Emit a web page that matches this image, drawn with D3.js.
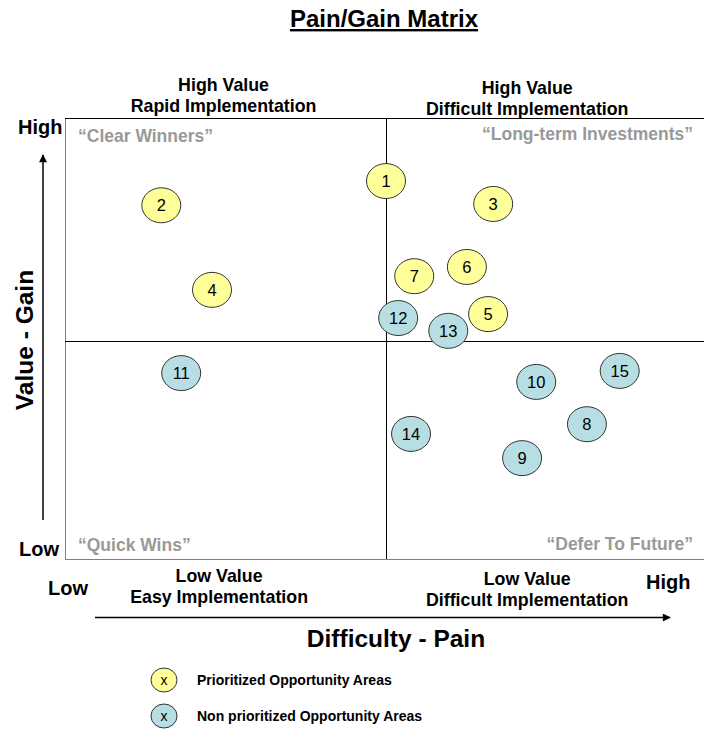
<!DOCTYPE html>
<html>
<head>
<meta charset="utf-8">
<script src="https://cdn.jsdelivr.net/npm/d3@7"></script>
<style>
  body { margin: 0; background: #fff; }
  svg { display: block; font-family: "Liberation Sans", Arial, sans-serif; }
</style>
</head>
<body>
<svg id="chart" width="704" height="730"></svg>
<script>
// Opportunity areas: id, difficulty (x), value (y), prioritized flag
const ids = [1, 2, 3, 4, 5, 6, 7, 8, 9, 10, 11, 12, 13, 14, 15];
const difficulty = [5.0, 1.5, 6.67, 2.29, 6.59, 6.26, 5.44, 8.13, 7.12, 7.34, 1.81, 5.19, 5.97, 5.39, 8.64];
const value = [8.58, 8.03, 8.06, 6.11, 5.56, 6.63, 6.42, 3.06, 2.29, 4.02, 4.22, 5.47, 5.18, 2.84, 4.27];
const prioritized = [true, true, true, true, true, true, true, false, false, false, false, false, false, false, false];

const splitX = 5;
const splitY = 4.94;

const quadrantTitles = [
  { lines: ["High Value", "Rapid Implementation"], x: 2.47, top: true },
  { lines: ["High Value", "Difficult Implementation"], x: 7.2, top: true },
  { lines: ["Low Value", "Easy Implementation"], x: 2.4, top: false },
  { lines: ["Low Value", "Difficult Implementation"], x: 7.2, top: false }
];
const quadrantNames = ["\u201CClear Winners\u201D", "\u201CLong-term Investments\u201D", "\u201CQuick Wins\u201D", "\u201CDefer To Future\u201D"];
const legendLabels = ["Prioritized  Opportunity Areas", "Non prioritized Opportunity Areas"];

const colors = { yes: "#FFFF99", no: "#B7DFE3" };

const svg = d3.select("#chart");
const plot = { left: 65, right: 707, top: 118.5, bottom: 559 };

const x = d3.scaleLinear().domain([0, 10]).range([plot.left, plot.right]);
const y = d3.scaleLinear().domain([0, 10]).range([plot.bottom, plot.top]);

const data = ids.map((id, i) => ({ id, x: difficulty[i], y: value[i], p: prioritized[i] }));

// arrow marker
svg.append("defs").append("marker")
  .attr("id", "arrow")
  .attr("viewBox", "0 0 10 10")
  .attr("refX", 9).attr("refY", 5)
  .attr("markerWidth", 9).attr("markerHeight", 8)
  .attr("markerUnits", "userSpaceOnUse")
  .attr("orient", "auto")
  .append("path").attr("d", "M0,0L10,5L0,10Z").attr("fill", "#000");

// title
svg.append("text")
  .attr("x", 384).attr("y", 27)
  .attr("text-anchor", "middle")
  .style("font-size", "24px").style("font-weight", "bold")
  .style("text-decoration", "underline")
  .text("Pain/Gain Matrix");

// frame
const frame = svg.append("g").attr("shape-rendering", "crispEdges");
frame.append("line")
  .attr("x1", plot.left).attr("x2", plot.right).attr("y1", plot.top).attr("y2", plot.top)
  .attr("stroke", "#000");
frame.append("line")
  .attr("x1", plot.left).attr("x2", plot.left).attr("y1", plot.top).attr("y2", plot.bottom)
  .attr("stroke", "#808080");
frame.append("line")
  .attr("x1", plot.left).attr("x2", plot.right).attr("y1", plot.bottom).attr("y2", plot.bottom)
  .attr("stroke", "#808080");
frame.append("line")
  .attr("x1", x(splitX)).attr("x2", x(splitX)).attr("y1", plot.top).attr("y2", plot.bottom)
  .attr("stroke", "#000");
frame.append("line")
  .attr("x1", plot.left).attr("x2", plot.right).attr("y1", y(splitY)).attr("y2", y(splitY))
  .attr("stroke", "#000");

// quadrant titles (outside the box)
quadrantTitles.forEach((q, i) => {
  const baseY = q.top ? (i === 0 ? 91 : 94) : (i === 2 ? 582 : 585);
  const t = svg.append("text")
    .attr("x", x(q.x)).attr("y", baseY)
    .attr("text-anchor", "middle")
    .style("font-size", "17.8px").style("font-weight", "bold");
  q.lines.forEach((l, j) => {
    t.append("tspan").attr("x", x(q.x)).attr("dy", j === 0 ? 0 : 21).text(l);
  });
});

// quadrant names (grey, inside corners)
const nameStyle = sel => sel.style("font-size", "17.5px").style("font-weight", "bold").attr("fill", "#999");
svg.append("text").attr("x", 78).attr("y", 142).call(nameStyle).text(quadrantNames[0]);
svg.append("text").attr("x", 693).attr("y", 140).attr("text-anchor", "end").call(nameStyle).text(quadrantNames[1]);
svg.append("text").attr("x", 78).attr("y", 551).call(nameStyle).text(quadrantNames[2]);
svg.append("text").attr("x", 693).attr("y", 550).attr("text-anchor", "end").call(nameStyle).text(quadrantNames[3]);

// high / low labels
const hl = sel => sel.style("font-size", "20px").style("font-weight", "bold");
svg.append("text").attr("x", 18).attr("y", 134).call(hl).text("High");
svg.append("text").attr("x", 19).attr("y", 556).call(hl).text("Low");
svg.append("text").attr("x", 48).attr("y", 595).call(hl).text("Low");
svg.append("text").attr("x", 646).attr("y", 589).call(hl).text("High");

// axis arrows
svg.append("line")
  .attr("x1", 43).attr("x2", 43).attr("y1", 520).attr("y2", 155)
  .attr("stroke", "#000").attr("stroke-width", 1.5).attr("marker-end", "url(#arrow)");
svg.append("line")
  .attr("x1", 95).attr("x2", 670).attr("y1", 617.5).attr("y2", 617.5)
  .attr("stroke", "#000").attr("stroke-width", 1.5).attr("marker-end", "url(#arrow)");

// axis titles
svg.append("text")
  .attr("transform", "translate(33,340) rotate(-90)")
  .attr("text-anchor", "middle")
  .style("font-size", "24.5px").style("font-weight", "bold")
  .text("Value - Gain");
svg.append("text")
  .attr("x", 396).attr("y", 647)
  .attr("text-anchor", "middle")
  .style("font-size", "24.5px").style("font-weight", "bold")
  .text("Difficulty - Pain");

// bubbles
const bubbles = svg.append("g").selectAll("g").data(data).join("g")
  .attr("transform", d => `translate(${x(d.x)},${y(d.y)})`);
bubbles.append("ellipse")
  .attr("rx", 19.5).attr("ry", 17.5)
  .attr("fill", d => d.p ? colors.yes : colors.no)
  .attr("stroke", "#333").attr("stroke-width", 1);
bubbles.append("text")
  .attr("text-anchor", "middle").attr("dy", "0.36em")
  .style("font-size", "16.5px")
  .text(d => d.id);

// legend
const legend = svg.append("g").selectAll("g").data(legendLabels).join("g")
  .attr("transform", (d, i) => `translate(164,${680 + i * 36})`);
legend.append("ellipse")
  .attr("rx", 13).attr("ry", 12)
  .attr("fill", (d, i) => i === 0 ? colors.yes : colors.no)
  .attr("stroke", "#333");
legend.append("text")
  .attr("text-anchor", "middle").attr("dy", "0.38em")
  .style("font-size", "14px").text("x");
legend.append("text")
  .attr("x", 33).attr("dy", "0.36em")
  .style("font-size", "14px").style("font-weight", "bold")
  .text(d => d);
</script>
</body>
</html>
